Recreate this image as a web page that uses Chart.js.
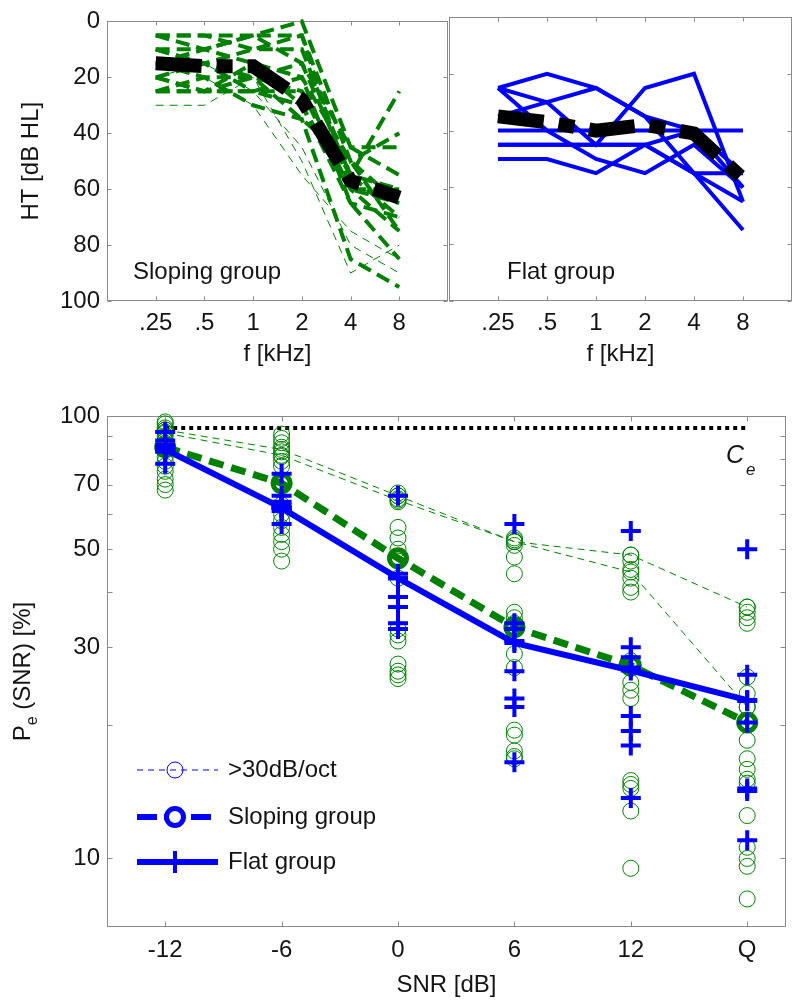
<!DOCTYPE html>
<html lang="en">
  <head>
    <meta charset="utf-8" />
    <title>Audiograms and Pe(SNR)</title>
    <style>
      * {
        margin: 0;
        padding: 0;
      }
      body {
        width: 800px;
        height: 1004px;
        background: #fff;
        position: relative;
        overflow: hidden;
      }
      canvas {
        position: absolute;
      }
      #slopeCanvas { left: 0; top: 0; }
      #flatCanvas { left: 449px; top: 0; }
      #peCanvas { left: 0; top: 380px; }
    </style>
  </head>
  <body>
    <canvas id="slopeCanvas" width="450" height="370"></canvas>
    <canvas id="flatCanvas" width="351" height="370"></canvas>
    <canvas id="peCanvas" width="800" height="624"></canvas>

    <script src="https://cdn.jsdelivr.net/npm/chart.js"></script>

    <script>
      // ---- audiogram data (HT in dB HL) ----
      const freqLabels = [".25", ".5", "1", "2", "4", "8"];
      const freqPos = [0, 1, 2, 3, 4, 5];
      const htTicks = [0, 20, 40, 60, 80, 100];

      // sloping group, one row per listener
      const slopeThick = [
        [5, 5, 5, 0, 45, 45],
        [5, 10, 5, 5, 50, 40],
        [5, 5, 10, 10, 55, 25],
        [10, 10, 5, 15, 45, 55],
        [10, 15, 10, 5, 60, 60],
        [15, 10, 15, 20, 50, 65],
        [15, 20, 20, 15, 55, 70],
        [20, 15, 20, 25, 60, 75],
        [20, 25, 25, 30, 65, 70],
        [25, 25, 25, 25, 55, 60],
        [25, 20, 30, 35, 85, 95],
        [10, 15, 25, 20, 65, 85],
        [20, 25, 15, 30, 60, 65],
        [25, 25, 20, 35, 50, 75],
      ];
      // listeners with >30 dB/oct slope
      const slopeThin = [
        [30, 30, 20, 50, 90, 80],
        [20, 15, 25, 45, 80, 90],
        [15, 20, 30, 55, 75, 85],
      ];
      const slopeMean = [15, 16, 16, 28, 57, 63];

      const flatLines = [
        [25, 20, 25, 35, 40, 55],
        [35, 30, 25, 35, 55, 65],
        [25, 30, 45, 25, 20, 65],
        [25, 40, 50, 55, 45, 60],
        [40, 40, 40, 40, 40, 40],
        [45, 45, 45, 45, 55, 55],
        [50, 50, 55, 45, 40, 60],
        [45, 45, 45, 45, 55, 75],
      ];
      const flatMean = [35, 37, 40, 38, 41, 57];

      // ---- error rates Pe (%) ----
      const snrLabels = ["-12", "-6", "0", "6", "12", "Q"];
      const snrPos = [-12, -6, 0, 6, 12, 18];
      const peTicks = [10, 20, 30, 40, 50, 60, 70, 80, 90, 100];
      const peLabeled = [10, 30, 50, 70, 100];

      // individual scores, one array per SNR
      const slopeScores = [
        [97, 96, 94, 93, 92, 90, 88, 86, 84, 81, 79, 77, 75, 72, 70, 68],
        [91, 89, 87, 85, 83, 81, 79, 77, 63, 60, 58, 56, 54, 52, 50, 47],
        [67, 66, 65, 64, 56, 53, 50, 47, 43, 33, 32, 31, 27.5, 26.5, 26, 25.5],
        [53, 52.5, 52, 51, 48, 44, 36, 35, 34, 29, 27, 19.5, 19, 17.5, 17, 16.8],
        [48.5, 47, 45, 43, 41, 40, 28, 27, 25, 24, 23, 15, 14.7, 14.4, 12.8, 9.5],
        [37, 36, 35, 34, 25.7, 23.6, 22, 18.5, 16.8, 15.9, 15.1, 14.8, 12.5, 10.6, 10, 9.6, 8.1],
      ];
      const flatScores = [
        [92, 88, 86, 85, 84, 84, 83, 78],
        [74, 66, 64, 63, 62, 62, 61, 57],
        [66, 44, 43, 39, 37, 34, 33, 33],
        [57, 34, 33, 31, 26.5, 23, 22, 16.5],
        [55, 30, 28.5, 27, 21, 19.4, 18, 13.7],
        [50, 26, 22.7, 20.3, 14.4, 14.2, 11],
      ];
      const steepA = [93, 84, 66, 52, 48.5, 37];
      const steepB = [91.5, 81.5, 64.5, 52, 44.4, 22];
      const slopeMeanPe = [85, 70.5, 47.7, 33.3, 27.3, 20.3];
      const flatMeanPe = [84, 62, 43, 30.7, 26.6, 22.8];
      const ceLevel = [94, 94, 94, 94, 94, 94];

      const font = "'Liberation Sans', Arial, sans-serif";
      const green = "#008000";
      const blue = "#0000ff";
      const axisGray = "#8a8a8a";
      const textColor = "#141414";

      function toPoints(xs, ys) {
        return ys.map((v, i) => ({ x: xs[i], y: v }));
      }

      // box + inward ticks, matlab style
      const framePlugin = {
        id: "frame",
        beforeDatasetsDraw(chart, args, opts) {
          const { ctx, chartArea: a, scales } = chart;
          const l = Math.round(a.left) + 0.5;
          const r = Math.round(a.right) - 0.5;
          const t = Math.round(a.top) + 0.5;
          const b = Math.round(a.bottom) - 0.5;
          const len = opts.tickLen;
          ctx.save();
          ctx.strokeStyle = axisGray;
          ctx.lineWidth = 1;
          ctx.strokeRect(l, t, r - l, b - t);
          ctx.beginPath();
          opts.xTicks.forEach((v) => {
            const px = Math.round(scales.x.getPixelForValue(v)) + 0.5;
            ctx.moveTo(px, b);
            ctx.lineTo(px, b - len);
            ctx.moveTo(px, t);
            ctx.lineTo(px, t + len);
          });
          opts.yTicks.forEach((v) => {
            const py = Math.round(scales.y.getPixelForValue(v)) + 0.5;
            ctx.moveTo(l, py);
            ctx.lineTo(l + len, py);
            ctx.moveTo(r, py);
            ctx.lineTo(r - len, py);
          });
          ctx.stroke();
          ctx.restore();
        },
      };

      // group name inside each audiogram
      const groupLabel = {
        id: "groupLabel",
        afterDraw(chart, args, opts) {
          const { ctx, chartArea: a } = chart;
          ctx.save();
          ctx.font = "24px " + font;
          ctx.fillStyle = textColor;
          ctx.textBaseline = "middle";
          ctx.fillText(opts.text, a.left + opts.dx, a.bottom - 29);
          ctx.restore();
        },
      };

      function lineSet(ys, color, width, dash, order) {
        return {
          data: toPoints(freqPos, ys),
          showLine: true,
          borderColor: color,
          borderWidth: width,
          borderDash: dash,
          pointRadius: 0,
          fill: false,
          clip: false,
          order: order,
        };
      }

      function meanSet(ys) {
        const ds = lineSet(ys, "#000", 14, [46, 15, 16, 15], 0);
        ds.borderCapStyle = "butt";
        return ds;
      }

      function audiogramOptions(isLeft, label, labelDx) {
        return {
          responsive: false,
          animation: false,
          events: [],
          layout: {
            padding: isLeft
              ? { top: 17, right: 2, left: 0, bottom: 0 }
              : { top: 17, right: 8, left: 0, bottom: 0 },
          },
          plugins: {
            legend: { display: false },
            tooltip: { enabled: false },
            frame: { xTicks: freqPos, yTicks: htTicks, tickLen: 4 },
            groupLabel: { text: label, dx: labelDx },
          },
          scales: {
            x: {
              type: "linear",
              min: -1,
              max: 6,
              grid: { display: false, drawTicks: false },
              border: { display: false },
              afterBuildTicks: (s) => {
                s.ticks = freqPos.map((v) => ({ value: v }));
              },
              afterFit: (s) => {
                s.height = 69;
              },
              ticks: {
                padding: 8,
                autoSkip: false,
                maxRotation: 0,
                color: textColor,
                font: { family: font, size: 24 },
                callback: (v, i) => freqLabels[i],
              },
              title: {
                display: true,
                text: "f [kHz]",
                color: textColor,
                font: { family: font, size: 24, lineHeight: 1 },
                padding: { top: 0, bottom: 4 },
              },
            },
            y: {
              type: "linear",
              display: isLeft,
              reverse: true,
              min: 0,
              max: 100,
              grid: { display: false, drawTicks: false },
              border: { display: false },
              afterFit: (s) => {
                s.width = isLeft ? 107 : 0;
              },
              ticks: {
                stepSize: 20,
                padding: 7,
                color: textColor,
                font: { family: font, size: 24 },
              },
              title: {
                display: true,
                text: "HT [dB HL]",
                color: textColor,
                font: { family: font, size: 24, lineHeight: 1 },
                padding: { top: 19, bottom: 0 },
              },
            },
          },
        };
      }

      // ---- sloping group audiogram ----
      const slopeSets = [meanSet(slopeMean)];
      slopeThick.forEach((row) => slopeSets.push(lineSet(row, green, 4, [14, 7], 2)));
      slopeThin.forEach((row) => slopeSets.push(lineSet(row, green, 1, [8, 6], 1)));

      new Chart(document.getElementById("slopeCanvas"), {
        type: "scatter",
        data: { datasets: slopeSets },
        options: audiogramOptions(true, "Sloping group", 26),
        plugins: [framePlugin, groupLabel],
      });

      // ---- flat group audiogram ----
      const flatSets = [meanSet(flatMean)];
      flatLines.forEach((row) => flatSets.push(lineSet(row, blue, 4, [], 1)));

      new Chart(document.getElementById("flatCanvas"), {
        type: "scatter",
        data: { datasets: flatSets },
        options: audiogramOptions(false, "Flat group", 58),
        plugins: [framePlugin, groupLabel],
      });

      // ---- Pe(SNR) panel ----
      const peDecor = {
        id: "peDecor",
        afterDraw(chart) {
          const { ctx, chartArea: a } = chart;
          ctx.save();
          ctx.fillStyle = textColor;

          // C_e label
          ctx.textBaseline = "alphabetic";
          ctx.font = "italic 25px " + font;
          ctx.fillText("C", a.right - 60, a.top + 47);
          ctx.font = "italic 17px " + font;
          ctx.fillText("e", a.right - 40, a.top + 59);

          // y title with subscript
          const cy = (a.top + a.bottom) / 2;
          ctx.translate(22, cy);
          ctx.rotate(-Math.PI / 2);
          ctx.font = "24px " + font;
          const wP = ctx.measureText("P").width;
          const wRest = ctx.measureText(" (SNR) [%]").width;
          ctx.font = "16px " + font;
          const wE = ctx.measureText("e").width;
          let x = -(wP + wE + wRest) / 2;
          ctx.font = "24px " + font;
          ctx.fillText("P", x, 8);
          x += wP;
          ctx.font = "16px " + font;
          ctx.fillText("e", x, 15);
          x += wE;
          ctx.font = "24px " + font;
          ctx.fillText(" (SNR) [%]", x, 8);
          ctx.restore();

          // legend
          ctx.save();
          const x0 = a.left + 30;
          const x1 = a.left + 111;
          const xm = a.left + 68;
          const rows = [a.top + 354, a.top + 401, a.top + 446];
          ctx.strokeStyle = blue;

          ctx.lineWidth = 1;
          ctx.setLineDash([6, 5]);
          ctx.beginPath();
          ctx.moveTo(x0, rows[0]);
          ctx.lineTo(x1, rows[0]);
          ctx.stroke();
          ctx.setLineDash([]);
          ctx.beginPath();
          ctx.arc(xm, rows[0], 8, 0, Math.PI * 2);
          ctx.stroke();

          ctx.lineWidth = 6;
          ctx.setLineDash([20, 7]);
          ctx.beginPath();
          ctx.moveTo(x0, rows[1]);
          ctx.lineTo(x1, rows[1]);
          ctx.stroke();
          ctx.setLineDash([]);
          ctx.lineWidth = 5;
          ctx.fillStyle = "#fff";
          ctx.beginPath();
          ctx.arc(xm, rows[1], 8.5, 0, Math.PI * 2);
          ctx.fill();
          ctx.stroke();

          ctx.lineWidth = 6;
          ctx.beginPath();
          ctx.moveTo(x0, rows[2]);
          ctx.lineTo(x1, rows[2]);
          ctx.stroke();
          ctx.lineWidth = 4;
          ctx.beginPath();
          ctx.moveTo(xm, rows[2] - 11);
          ctx.lineTo(xm, rows[2] + 11);
          ctx.stroke();

          ctx.fillStyle = textColor;
          ctx.font = "24px " + font;
          ctx.textBaseline = "middle";
          ctx.fillText(">30dB/oct", x1 + 10, rows[0]);
          ctx.fillText("Sloping group", x1 + 10, rows[1]);
          ctx.fillText("Flat group", x1 + 10, rows[2]);
          ctx.restore();
        },
      };

      const slopePts = slopeScores.flatMap((col, i) => col.map((v) => ({ x: snrPos[i], y: v })));
      const flatPts = flatScores.flatMap((col, i) => col.map((v) => ({ x: snrPos[i], y: v })));

      const peSets = [
        {
          // flat group mean
          data: toPoints(snrPos, flatMeanPe),
          showLine: true,
          borderColor: blue,
          borderWidth: 6,
          pointStyle: "cross",
          pointRadius: 10,
          pointBorderWidth: 4,
          pointBorderColor: blue,
          clip: false,
          order: 0,
        },
        {
          data: flatPts,
          pointStyle: "cross",
          pointRadius: 10,
          pointBorderWidth: 4,
          pointBorderColor: blue,
          borderColor: blue,
          clip: false,
          order: 1,
        },
        {
          // sloping group mean
          data: toPoints(snrPos, slopeMeanPe),
          showLine: true,
          borderColor: green,
          borderWidth: 7,
          borderDash: [15, 8],
          pointStyle: "circle",
          pointRadius: 8.5,
          pointBorderWidth: 5,
          pointBorderColor: green,
          pointBackgroundColor: "rgba(0,0,0,0)",
          clip: false,
          order: 2,
        },
        {
          data: slopePts,
          pointStyle: "circle",
          pointRadius: 8,
          pointBorderWidth: 1,
          pointBorderColor: green,
          pointBackgroundColor: "rgba(0,0,0,0)",
          clip: false,
          order: 3,
        },
        {
          data: toPoints(snrPos, steepA),
          showLine: true,
          borderColor: green,
          borderWidth: 1,
          borderDash: [7, 5],
          pointRadius: 8,
          pointBorderWidth: 1,
          pointBorderColor: green,
          pointBackgroundColor: "rgba(0,0,0,0)",
          clip: false,
          order: 4,
        },
        {
          data: toPoints(snrPos, steepB),
          showLine: true,
          borderColor: green,
          borderWidth: 1,
          borderDash: [7, 5],
          pointRadius: 8,
          pointBorderWidth: 1,
          pointBorderColor: green,
          pointBackgroundColor: "rgba(0,0,0,0)",
          clip: false,
          order: 4,
        },
        {
          // C_e reference
          data: toPoints(snrPos, ceLevel),
          showLine: true,
          borderColor: "#000",
          borderWidth: 4,
          borderDash: [4, 4],
          borderCapStyle: "butt",
          pointRadius: 0,
          clip: false,
          order: 5,
        },
      ];

      new Chart(document.getElementById("peCanvas"), {
        type: "scatter",
        data: { datasets: peSets },
        options: {
          responsive: false,
          animation: false,
          events: [],
          layout: { padding: { top: 36, right: 8, left: 0, bottom: 0 } },
          plugins: {
            legend: { display: false },
            tooltip: { enabled: false },
            frame: { xTicks: snrPos, yTicks: peTicks, tickLen: 5 },
          },
          scales: {
            x: {
              type: "linear",
              min: -15,
              max: 20,
              grid: { display: false, drawTicks: false },
              border: { display: false },
              afterBuildTicks: (s) => {
                s.ticks = snrPos.map((v) => ({ value: v }));
              },
              afterFit: (s) => {
                s.height = 77;
              },
              ticks: {
                padding: 9,
                autoSkip: false,
                maxRotation: 0,
                color: textColor,
                font: { family: font, size: 24 },
                callback: (v, i) => snrLabels[i],
              },
              title: {
                display: true,
                text: "SNR [dB]",
                color: textColor,
                font: { family: font, size: 24, lineHeight: 1 },
                padding: { top: 0, bottom: 7 },
              },
            },
            y: {
              type: "logarithmic",
              min: 7,
              max: 100,
              grid: { display: false, drawTicks: false },
              border: { display: false },
              afterBuildTicks: (s) => {
                s.ticks = peTicks.map((v) => ({ value: v }));
              },
              afterFit: (s) => {
                s.width = 107;
              },
              ticks: {
                padding: 7,
                autoSkip: false,
                color: textColor,
                font: { family: font, size: 24 },
                callback: (v) => (peLabeled.includes(v) ? String(v) : ""),
              },
            },
          },
        },
        plugins: [framePlugin, peDecor],
      });
    </script>
  </body>
</html>
